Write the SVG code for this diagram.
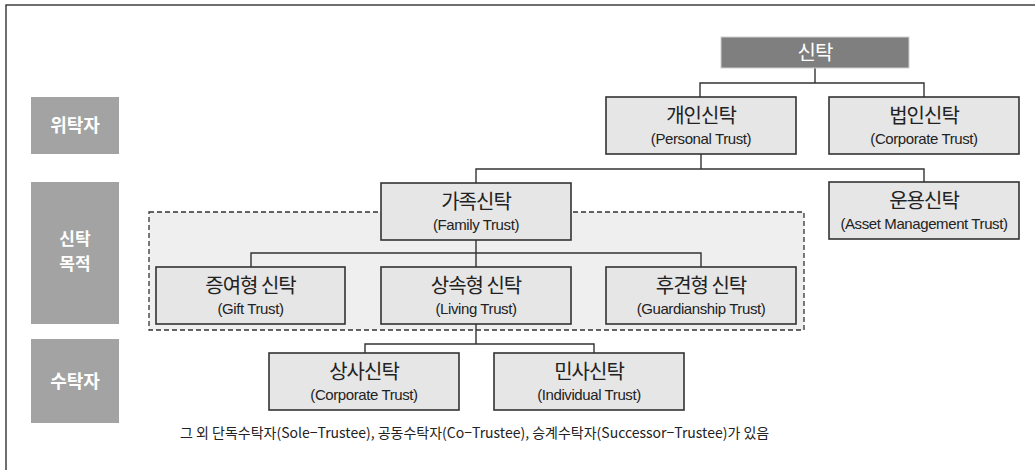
<svg xmlns="http://www.w3.org/2000/svg" width="1035" height="470" viewBox="0 0 1035 470">
<style>
.bg{fill:#ffffff}
.frame{fill:none;stroke:#222;stroke-width:1.3}
.side{fill:#a3a3a3}
.sidet{font-family:"Noto Sans CJK KR","Noto Sans",sans-serif;font-size:18px;font-weight:bold;fill:#ffffff;text-anchor:middle}
.box{fill:#e6e6e6;stroke:#333;stroke-width:1.6}
.top{fill:#7f7f7f;stroke:#d0d0d0;stroke-width:1}
.kr{font-family:"Noto Sans CJK KR",sans-serif;font-size:20px;fill:#222;text-anchor:middle;letter-spacing:-1px}
.en{font-family:"Liberation Sans",Arial,sans-serif;font-size:15px;fill:#222;text-anchor:middle;letter-spacing:-0.4px}
.conn{fill:none;stroke:#333;stroke-width:1.4}
.dash{fill:#efefef;stroke:#333;stroke-width:1.3;stroke-dasharray:5,3}
.note{font-family:"Noto Sans CJK KR",sans-serif;font-size:14px;fill:#222}
</style>
<rect class="bg" x="0" y="0" width="1035" height="470"/>
<rect class="frame" x="6" y="5" width="1040" height="480"/>

<g id="side-labels">
  <g id="label-wituakja"><rect class="side" x="31" y="97" width="88" height="57"/><text class="sidet" x="75" y="132">위탁자</text></g>
  <g id="label-purpose"><rect class="side" x="31" y="182" width="88" height="142"/><text class="sidet" x="75" y="245" style="font-size:17px">신탁</text><text class="sidet" x="75" y="270" style="font-size:17px">목적</text></g>
  <g id="label-sutakja"><rect class="side" x="31" y="339" width="88" height="84"/><text class="sidet" x="75" y="388">수탁자</text></g>
</g>

<rect class="dash" x="149" y="212" width="655" height="118"/>

<g id="connectors">
  <path class="conn" d="M815,68 V83 M700,97 V83 H924 V97"/>
  <path class="conn" d="M701,154 V169 M476,183 V169 H924 V182"/>
  <path class="conn" d="M476,240 V253 M251,267 V253 H701 V267 M476,253 V267"/>
  <path class="conn" d="M476,324 V344 M365,353 V344 H594 V353"/>
</g>

<g id="node-trust"><rect class="top" x="721" y="37" width="188" height="31"/><text class="kr" x="815" y="60" style="fill:#fff">신탁</text></g>
<g id="node-personal"><rect class="box" x="606" y="97" width="190" height="57"/><text class="kr" x="701" y="123">개인신탁</text><text class="en" x="701" y="144">(Personal Trust)</text></g>
<g id="node-corporate"><rect class="box" x="829" y="97" width="190" height="57"/><text class="kr" x="924" y="123">법인신탁</text><text class="en" x="924" y="144">(Corporate Trust)</text></g>
<g id="node-family"><rect class="box" x="381" y="183" width="190" height="57"/><text class="kr" x="476" y="209">가족신탁</text><text class="en" x="476" y="230">(Family Trust)</text></g>
<g id="node-asset"><rect class="box" x="829" y="182" width="190" height="57"/><text class="kr" x="924" y="208">운용신탁</text><text class="en" x="924" y="229">(Asset Management Trust)</text></g>
<g id="node-gift"><rect class="box" x="156" y="267" width="189" height="57"/><text class="kr" x="250.5" y="293">증여형 신탁</text><text class="en" x="250.5" y="314">(Gift Trust)</text></g>
<g id="node-living"><rect class="box" x="381" y="267" width="190" height="57"/><text class="kr" x="476" y="293">상속형 신탁</text><text class="en" x="476" y="314">(Living Trust)</text></g>
<g id="node-guardian"><rect class="box" x="606" y="267" width="190" height="57"/><text class="kr" x="701" y="293">후견형 신탁</text><text class="en" x="701" y="314">(Guardianship Trust)</text></g>
<g id="node-commercial"><rect class="box" x="269" y="353" width="190" height="57"/><text class="kr" x="364" y="379">상사신탁</text><text class="en" x="364" y="400">(Corporate Trust)</text></g>
<g id="node-civil"><rect class="box" x="494" y="353" width="190" height="57"/><text class="kr" x="589" y="379">민사신탁</text><text class="en" x="589" y="400">(Individual Trust)</text></g>

<text class="note" x="180" y="438">그 외 단독수탁자(Sole−Trustee), 공동수탁자(Co−Trustee), 승계수탁자(Successor−Trustee)가 있음</text>
</svg>
